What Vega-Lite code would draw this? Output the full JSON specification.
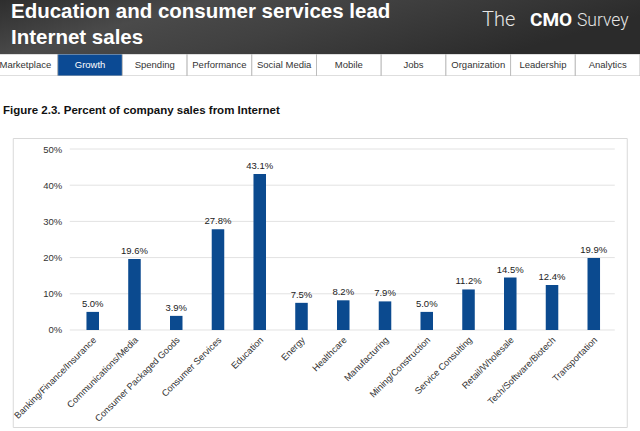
{
  "$schema": "https://vega.github.io/schema/vega-lite/v6.json",
  "padding": 0,
  "background": "white",
  "config": {"font": "Liberation Sans", "view": {"stroke": null}},
  "datasets": {
    "header": [
      {"line": 1, "text": "Education and consumer services lead"},
      {"line": 2, "text": "Internet sales"}
    ],
    "logo": [
      {"part": "The"}, {"part": "CMO"}, {"part": "Survey"}
    ],
    "tabs": [
      {"tab": "Marketplace"}, {"tab": "Growth"}, {"tab": "Spending"}, {"tab": "Performance"}, {"tab": "Social Media"},
      {"tab": "Mobile"}, {"tab": "Jobs"}, {"tab": "Organization"}, {"tab": "Leadership"}, {"tab": "Analytics"}
    ],
    "sales": [
      {"industry": "Banking/Finance/Insurance", "pct": 0.050},
      {"industry": "Communications/Media", "pct": 0.196},
      {"industry": "Consumer Packaged Goods", "pct": 0.039},
      {"industry": "Consumer Services", "pct": 0.278},
      {"industry": "Education", "pct": 0.431},
      {"industry": "Energy", "pct": 0.075},
      {"industry": "Healthcare", "pct": 0.082},
      {"industry": "Manufacturing", "pct": 0.079},
      {"industry": "Mining/Construction", "pct": 0.050},
      {"industry": "Service Consulting", "pct": 0.112},
      {"industry": "Retail/Wholesale", "pct": 0.145},
      {"industry": "Tech/Software/Biotech", "pct": 0.124},
      {"industry": "Transportation", "pct": 0.199}
    ],
    "grid": [{"v": 0}, {"v": 0.1}, {"v": 0.2}, {"v": 0.3}, {"v": 0.4}, {"v": 0.5}]
  },
  "vconcat": [
    {
      "vconcat": [
        {
          "width": 640,
          "height": 54,
          "view": {"fill": "#3b3b3b", "stroke": null},
          "layer": [
            {
              "data": {"name": "header"},
              "transform": [{"filter": "datum.line === 1"}],
              "mark": {"type": "rect", "color": {"gradient": "linear", "x1": 0, "y1": 0, "x2": 1, "y2": 0.3, "stops": [{"offset": 0, "color": "#2e2e2e"}, {"offset": 0.3, "color": "#4a4a4a"}, {"offset": 0.55, "color": "#414141"}, {"offset": 0.8, "color": "#353535"}, {"offset": 1, "color": "#2b2b2b"}]}}
            },
            {
              "data": {"name": "header"},
              "mark": {"type": "text", "align": "left", "baseline": "alphabetic", "dx": 11, "dy": -8, "font": "Liberation Sans", "fontSize": 20.5, "fontWeight": "bold", "color": "white"},
              "encoding": {
                "x": {"datum": "left", "type": "nominal", "bandPosition": 0, "scale": {"type": "band", "domain": ["left", "right"], "range": [0, 640], "paddingInner": 0, "paddingOuter": 0}, "axis": null},
                "y": {"field": "line", "type": "ordinal", "bandPosition": 1, "scale": {"type": "band", "domain": [1, 2], "range": [0, 52], "paddingInner": 0, "paddingOuter": 0}, "axis": null},
                "text": {"field": "text"}
              }
            },
            {
              "data": {"name": "logo"},
              "transform": [{"filter": "datum.part === 'The'"}],
              "mark": {"type": "text", "align": "left", "baseline": "alphabetic", "dx": 162, "dy": 0, "font": "Roboto", "fontSize": 20, "fontWeight": 300, "color": "#e6e6e6"},
              "encoding": {
                "x": {"datum": "right", "type": "nominal", "bandPosition": 0},
                "y": {"datum": 1, "type": "ordinal", "bandPosition": 1},
                "text": {"field": "part"}
              }
            },
            {
              "data": {"name": "logo"},
              "transform": [{"filter": "datum.part === 'CMO'"}],
              "mark": {"type": "text", "align": "left", "baseline": "alphabetic", "dx": 210, "dy": 0, "font": "Roboto", "fontSize": 19, "fontWeight": "bold", "color": "white"},
              "encoding": {
                "x": {"datum": "right", "type": "nominal", "bandPosition": 0},
                "y": {"datum": 1, "type": "ordinal", "bandPosition": 1},
                "text": {"field": "part"}
              }
            },
            {
              "data": {"name": "logo"},
              "transform": [{"filter": "datum.part === 'Survey'"}],
              "mark": {"type": "text", "align": "left", "baseline": "alphabetic", "dx": 257, "dy": 0, "font": "Roboto", "fontSize": 17.5, "fontWeight": 300, "color": "#e6e6e6"},
              "encoding": {
                "x": {"datum": "right", "type": "nominal", "bandPosition": 0},
                "y": {"datum": 1, "type": "ordinal", "bandPosition": 1},
                "text": {"field": "part"}
              }
            }
          ]
        },
        {
          "width": 640,
          "height": 22,
          "data": {"name": "tabs"},
          "title": {"text": "Figure 2.3.  Percent of company sales from Internet", "orient": "bottom", "anchor": "start", "frame": "group", "font": "Liberation Sans", "fontSize": 11.5, "fontWeight": "bold", "color": "#111111", "dx": 3, "offset": 29, "baseline": "top"},
          "encoding": {
            "x": {"field": "tab", "type": "nominal", "sort": null, "scale": {"type": "band", "range": [-7, 640], "paddingInner": 0, "paddingOuter": 0}, "axis": null}
          },
          "layer": [
            {
              "mark": {"type": "rect", "stroke": "#bdbdbd", "strokeWidth": 1, "clip": true},
              "encoding": {
                "color": {"condition": {"test": "datum.tab === 'Growth'", "value": "#0b4a94"}, "value": "white"}
              }
            },
            {
              "mark": {"type": "text", "fontSize": 9.5, "baseline": "middle", "clip": true},
              "encoding": {
                "text": {"field": "tab"},
                "color": {"condition": {"test": "datum.tab === 'Growth'", "value": "white"}, "value": "#333333"}
              }
            }
          ]
        }
      ],
      "spacing": 0
    },
    {
      "width": 614,
      "height": 289,
      "view": {"stroke": "#d9d9d9", "fill": "white"},
      "layer": [
        {
          "data": {"name": "grid"},
          "mark": {"type": "rule", "color": "#e2e2e2", "strokeWidth": 1},
          "encoding": {
            "y": {"field": "v", "type": "quantitative", "scale": {"domain": [-0.268, 0.5304], "nice": false, "zero": false},
                  "axis": {"orient": "left", "offset": -57, "values": [0, 0.1, 0.2, 0.3, 0.4, 0.5], "format": ".0%", "domain": false, "ticks": false, "grid": false, "labelPadding": 8, "labelFontSize": 9.5, "labelColor": "#333333", "title": null}},
            "x": {"datum": 0, "type": "quantitative", "scale": {"domain": [0, 1], "range": [57, 602]}, "axis": null},
            "x2": {"datum": 1}
          }
        },
        {
          "data": {"name": "sales"},
          "encoding": {
            "x": {"field": "industry", "type": "nominal", "sort": null,
                  "scale": {"type": "band", "range": [59.1, 601.9], "paddingInner": 0.7, "paddingOuter": 0.35},
                  "axis": {"orient": "bottom", "offset": -97, "labelAngle": -45, "labelAlign": "right", "labelBaseline": "middle", "domain": false, "ticks": false, "labelPadding": 8, "labelOffset": 2, "labelFontSize": 9.2, "labelColor": "#333333", "title": null}},
            "y": {"field": "pct", "type": "quantitative", "scale": {"domain": [-0.268, 0.5304], "nice": false, "zero": false},
                  "axis": {"orient": "left", "offset": -57, "values": [0, 0.1, 0.2, 0.3, 0.4, 0.5], "format": ".0%", "domain": false, "ticks": false, "grid": false, "labelPadding": 8, "labelFontSize": 9.5, "labelColor": "#333333", "title": null}}
          },
          "layer": [
            {"mark": {"type": "bar", "color": "#0b4a8f"}},
            {
              "mark": {"type": "text", "baseline": "alphabetic", "dy": -5, "fontSize": 9.5, "color": "#222222"},
              "encoding": {"text": {"field": "pct", "type": "quantitative", "format": ".1%"}}
            }
          ]
        }
      ],
      "resolve": {"scale": {"x": "independent"}}
    }
  ],
  "spacing": 20,
  "center": true
}
